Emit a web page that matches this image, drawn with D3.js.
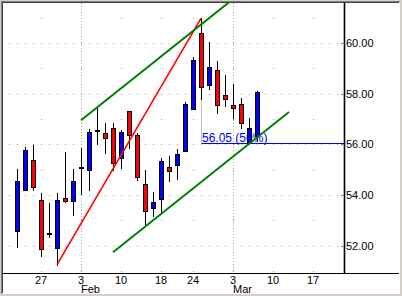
<!DOCTYPE html>
<html>
<head>
<meta charset="utf-8">
<script src="https://cdn.jsdelivr.net/npm/d3@7"></script>
<style>
body { margin: 0; background: #fff; }
svg { display: block; }
text { font-family: "Liberation Sans", Arial, sans-serif; font-size: 11px; }
</style>
</head>
<body>
<script>
var width = 402;
var height = 296;
var plotLeft = 3, plotTop = 3, plotRight = 344, plotBottom = 273;

// daily bars, Jan 22 - Mar 6 2003
var dates = ["2003-01-22", "2003-01-23", "2003-01-24", "2003-01-27", "2003-01-28", "2003-01-29", "2003-01-30", "2003-01-31",
    "2003-02-03", "2003-02-04", "2003-02-05", "2003-02-06", "2003-02-07", "2003-02-10", "2003-02-11", "2003-02-12",
    "2003-02-13", "2003-02-14", "2003-02-18", "2003-02-19", "2003-02-20", "2003-02-21", "2003-02-24", "2003-02-25",
    "2003-02-26", "2003-02-27", "2003-02-28", "2003-03-03", "2003-03-04", "2003-03-05", "2003-03-06"];
var open = [52.57, 54.21, 55.39, 53.81, 52.52, 51.91, 53.89, 53.78, 55.10, 54.98, 56.58, 56.46, 56.66, 55.47, 57.32, 56.37,
    54.42, 53.48, 53.83, 55.12, 55.18, 55.75, 57.39, 60.40, 58.35, 58.92, 57.97, 57.56, 57.61, 56.09, 56.33];
var high = [55.01, 55.89, 55.96, 54.09, 53.69, 54.09, 55.71, 55.04, 55.84, 56.59, 57.49, 56.86, 56.86, 56.55, 57.32, 56.46,
    54.97, 54.13, 55.47, 55.54, 55.83, 57.69, 59.47, 60.98, 60.03, 59.28, 58.73, 58.38, 57.85, 57.06, 58.11];
var low = [51.93, 54.20, 54.19, 51.58, 52.34, 51.25, 53.71, 53.23, 54.06, 54.19, 56.00, 55.67, 54.97, 55.06, 55.87, 54.61,
    52.86, 53.19, 53.32, 54.55, 54.64, 55.75, 57.39, 57.81, 58.18, 57.23, 57.52, 57.06, 56.66, 56.05, 56.13];
var close = [54.57, 55.76, 54.31, 51.87, 52.48, 53.81, 53.78, 54.57, 55.06, 56.50, 56.55, 56.27, 55.28, 56.50, 56.36, 54.72,
    53.36, 53.73, 55.35, 54.94, 55.63, 57.61, 59.35, 58.25, 59.04, 57.56, 57.78, 57.44, 56.86, 56.66, 58.05];

var holidays = ["2003-02-17"];
var weekTicks = ["2003-01-27", "2003-02-03", "2003-02-10", "2003-02-18", "2003-02-24", "2003-03-03", "2003-03-10", "2003-03-17"];
var monthTicks = ["2003-02-03", "2003-03-03"];
var monthLabels = ["Feb", "Mar"];
var priceTicks = [52, 54, 56, 58, 60];
var minorTicks = [51, 53, 55, 57, 59, 61];

// drawn lines
var redLine = [["2003-01-29", 51.25], ["2003-02-25", 60.98]];
var upperGreen = [["2003-02-03", 56.95], ["2003-03-04", 61.99]];
var lowerGreen = [["2003-02-07", 51.74], ["2003-03-12", 57.28]];
var fibDate = "2003-02-25", fibHigh = 60.98, fibLevel = 56.05, fibLabel = "56.05 (50%)";

var parse = d3.utcParse("%Y-%m-%d");
var fmt = d3.utcFormat("%Y-%m-%d");
var tradingDays = d3.utcDay.range(parse("2003-01-22"), parse("2003-03-25"))
    .filter(function (d) { return d.getUTCDay() % 6 !== 0 && holidays.indexOf(fmt(d)) < 0; })
    .map(fmt);
function idx(s) { return tradingDays.indexOf(s); }

var x = d3.scaleLinear().domain([-1.75, 40.875]).range([plotLeft, plotRight]);
var y = d3.scaleLinear().domain([50.921, 61.584]).range([plotBottom, plotTop]);
function px(s) { return Math.round(x(idx(s))) + 0.5; }
function py(v) { return Math.round(y(v)) + 0.5; }

var svg = d3.select('body').append('svg')
    .attr('width', width)
    .attr('height', height);

// window frame
svg.append('rect').attr('width', width).attr('height', height).attr('fill', '#d4d0c8');
svg.append('rect').attr('x', 1).attr('y', 1).attr('width', 399).attr('height', 293).attr('fill', '#808080');
svg.append('rect').attr('x', 2).attr('y', 2).attr('width', 398).attr('height', 292).attr('fill', '#fff');
svg.append('rect').attr('x', 2).attr('y', 2).attr('width', 397).attr('height', 291).attr('fill', '#404040');
svg.append('rect').attr('x', 3).attr('y', 3).attr('width', 396).attr('height', 290).attr('fill', '#fff');

svg.append('clipPath').attr('id', 'plot')
    .append('rect').attr('x', plotLeft).attr('y', plotTop)
    .attr('width', plotRight - plotLeft).attr('height', plotBottom - plotTop);

// dotted grid
var grid = svg.append('g').attr('fill', '#a0a0a0');
var dense = d3.range(-1, 41).filter(function (i) { return x(i) < plotRight - 2; });
priceTicks.forEach(function (v) {
    grid.selectAll(null).data(dense).enter().append('rect')
        .attr('x', function (i) { return Math.round(x(i)); })
        .attr('y', Math.round(y(v)))
        .attr('width', 1).attr('height', 1);
});
minorTicks.forEach(function (v) {
    if (y(v) < plotTop + 2) return;
    grid.selectAll(null).data(weekTicks).enter().append('rect')
        .attr('x', function (s) { return Math.round(x(idx(s))); })
        .attr('y', Math.round(y(v)))
        .attr('width', 1).attr('height', 1);
});
svg.append('g').selectAll('line').data(monthTicks).enter().append('line')
    .attr('x1', px).attr('x2', px)
    .attr('y1', plotTop).attr('y2', plotBottom)
    .attr('stroke', '#a0a0a0').attr('stroke-dasharray', '1,2');

// 50% retracement marker
svg.append('line')
    .attr('x1', px(fibDate)).attr('x2', px(fibDate))
    .attr('y1', py(fibHigh)).attr('y2', py(fibLevel))
    .attr('stroke', '#c0c0c0');
svg.append('line')
    .attr('x1', px(fibDate)).attr('x2', plotRight)
    .attr('y1', py(fibLevel)).attr('y2', py(fibLevel))
    .attr('stroke', '#0000ff');
svg.append('text')
    .attr('x', px(fibDate) + 0.5).attr('y', py(fibLevel) - 2)
    .attr('fill', '#0000ff').style('font-size', '12px')
    .text(fibLabel);

// candles
var bars = svg.append('g').attr('shape-rendering', 'crispEdges');
bars.selectAll('.wick').data(dates).enter().append('line')
    .attr('class', 'wick')
    .attr('x1', px).attr('x2', px)
    .attr('y1', function (d, i) { return Math.round(y(high[i])); })
    .attr('y2', function (d, i) { return Math.round(y(low[i])) + 1; })
    .attr('stroke', '#000');
bars.selectAll('.body').data(dates).enter().append('rect')
    .attr('class', 'body')
    .attr('x', function (d) { return px(d) - 2; })
    .attr('y', function (d, i) { return py(Math.max(open[i], close[i])); })
    .attr('width', 4)
    .attr('height', function (d, i) {
        return Math.max(1, py(Math.min(open[i], close[i])) - py(Math.max(open[i], close[i])));
    })
    .attr('fill', function (d, i) { return close[i] >= open[i] ? '#0000ff' : '#ff0000'; })
    .attr('stroke', '#000');

// trend lines
var line = d3.line()
    .x(function (p) { return x(idx(p[0])); })
    .y(function (p) { return y(p[1]); });
var trends = svg.append('g').attr('clip-path', 'url(#plot)').attr('fill', 'none').attr('stroke-width', 2);
trends.append('path').attr('d', line(redLine)).attr('stroke', '#ff0000').attr('stroke-width', 1.6);
trends.append('path').attr('d', line(upperGreen)).attr('stroke', '#008000');
trends.append('path').attr('d', line(lowerGreen)).attr('stroke', '#008000');

// axes
svg.append('line').attr('x1', plotRight + 0.5).attr('x2', plotRight + 0.5)
    .attr('y1', plotTop).attr('y2', plotBottom).attr('stroke', '#000').attr('stroke-width', 1.6);
svg.append('line').attr('x1', plotLeft).attr('x2', 399)
    .attr('y1', plotBottom + 0.5).attr('y2', plotBottom + 0.5).attr('stroke', '#000');

var yAxis = svg.append('g');
yAxis.selectAll('line').data(priceTicks).enter().append('line')
    .attr('x1', plotRight - 3).attr('x2', plotRight)
    .attr('y1', py).attr('y2', py)
    .attr('stroke', '#808080');
yAxis.selectAll('text').data(priceTicks).enter().append('text')
    .attr('x', plotRight + 2)
    .attr('y', function (v) { return y(v) + 4; })
    .text(function (v) { return v.toFixed(2); });

var xAxis = svg.append('g');
xAxis.selectAll('text').data(weekTicks).enter().append('text')
    .attr('x', function (s) { return x(idx(s)); })
    .attr('y', 284)
    .attr('text-anchor', 'middle')
    .text(function (s) { return +s.slice(8); });
xAxis.selectAll('.month').data(monthTicks).enter().append('text')
    .attr('class', 'month')
    .attr('x', function (s) { return x(idx(s)); })
    .attr('y', 293)
    .text(function (s, i) { return monthLabels[i]; });
</script>
</body>
</html>
